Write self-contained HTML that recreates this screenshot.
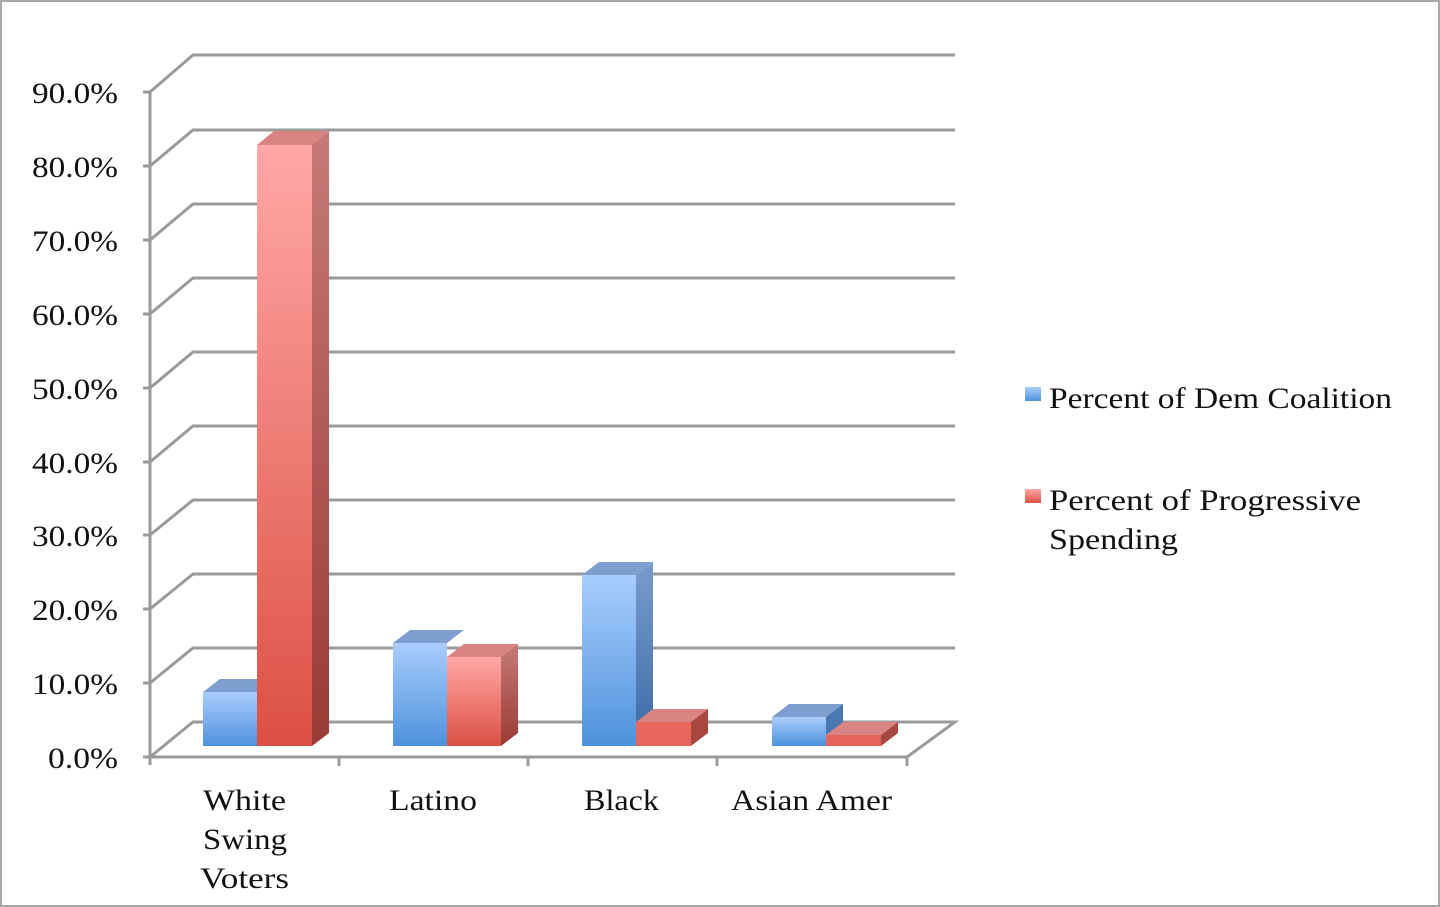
<!DOCTYPE html>
<html><head><style>
html,body{margin:0;padding:0;background:#fff}
svg{display:block}
text{font-family:"Liberation Serif",serif;fill:#111}
</style></head><body>
<svg width="1440" height="907" viewBox="0 0 1440 907">
<defs>
<linearGradient id="bf" x1="0" y1="0" x2="0" y2="1"><stop offset="0" stop-color="#a9cdfd"/><stop offset="1" stop-color="#4e92dc"/></linearGradient>
<linearGradient id="rf" x1="0" y1="0" x2="0" y2="1"><stop offset="0" stop-color="#ffa8a6"/><stop offset="1" stop-color="#dc5044"/></linearGradient>
<linearGradient id="bs" x1="0" y1="0" x2="0" y2="1"><stop offset="0" stop-color="#7b9ccc"/><stop offset="1" stop-color="#3a6aa6"/></linearGradient>
<linearGradient id="rs" x1="0" y1="0" x2="0" y2="1"><stop offset="0" stop-color="#c77a78"/><stop offset="1" stop-color="#9a3a33"/></linearGradient>
</defs>
<rect x="1" y="1" width="1438" height="905" fill="#fff" stroke="#a8a8a8" stroke-width="2"/>
<g stroke="#9a9a9a" stroke-width="3" fill="none">
<polyline points="150,757 193,722 955,722 907,757 150,757"/>
<polyline points="150,683 193,648 955,648"/>
<polyline points="150,609 193,574 955,574"/>
<polyline points="150,535 193,500 955,500"/>
<polyline points="150,462 193,426 955,426"/>
<polyline points="150,388 193,352 955,352"/>
<polyline points="150,314 193,278 955,278"/>
<polyline points="150,240 193,204 955,204"/>
<polyline points="150,166 193,130 955,130"/>
<polyline points="150,92 193,55 955,55"/>
<line x1="150" y1="92" x2="150" y2="765"/>
<line x1="143" y1="757" x2="150" y2="757"/><line x1="143" y1="683" x2="150" y2="683"/><line x1="143" y1="609" x2="150" y2="609"/><line x1="143" y1="535" x2="150" y2="535"/><line x1="143" y1="462" x2="150" y2="462"/><line x1="143" y1="388" x2="150" y2="388"/><line x1="143" y1="314" x2="150" y2="314"/><line x1="143" y1="240" x2="150" y2="240"/><line x1="143" y1="166" x2="150" y2="166"/><line x1="143" y1="92" x2="150" y2="92"/>
<line x1="339" y1="757" x2="339" y2="766"/><line x1="528" y1="757" x2="528" y2="766"/><line x1="717" y1="757" x2="717" y2="766"/><line x1="907" y1="757" x2="907" y2="766"/>
</g>
<g font-size="30" lengthAdjust="spacingAndGlyphs">
<text x="48" y="768" textLength="70" lengthAdjust="spacingAndGlyphs">0.0%</text>
<text x="32" y="694" textLength="86" lengthAdjust="spacingAndGlyphs">10.0%</text>
<text x="32" y="620" textLength="86" lengthAdjust="spacingAndGlyphs">20.0%</text>
<text x="32" y="546" textLength="86" lengthAdjust="spacingAndGlyphs">30.0%</text>
<text x="32" y="473" textLength="86" lengthAdjust="spacingAndGlyphs">40.0%</text>
<text x="32" y="399" textLength="86" lengthAdjust="spacingAndGlyphs">50.0%</text>
<text x="32" y="325" textLength="86" lengthAdjust="spacingAndGlyphs">60.0%</text>
<text x="32" y="251" textLength="86" lengthAdjust="spacingAndGlyphs">70.0%</text>
<text x="32" y="177" textLength="86" lengthAdjust="spacingAndGlyphs">80.0%</text>
<text x="32" y="103" textLength="86" lengthAdjust="spacingAndGlyphs">90.0%</text>
</g>
<g>
<polygon points="203,692 220,679 274,679 257,692" fill="#7e9ed0"/>
<rect x="203" y="692" width="54" height="54" fill="url(#bf)"/>
<polygon points="257,145 274,131 329,131 312,145" fill="#d98482"/>
<polygon points="312,145 329,131 329,733 312,746" fill="url(#rs)"/>
<rect x="257" y="145" width="55" height="601" fill="url(#rf)"/>
<polygon points="393,643 410,630 464,630 447,643" fill="#7e9ed0"/>
<rect x="393" y="643" width="54" height="103" fill="url(#bf)"/>
<polygon points="447,657 464,644 518,644 501,657" fill="#d98482"/>
<polygon points="501,657 518,644 518,733 501,746" fill="url(#rs)"/>
<rect x="447" y="657" width="54" height="89" fill="url(#rf)"/>
<polygon points="582,575 599,562 653,562 636,575" fill="#7e9ed0"/>
<polygon points="636,575 653,562 653,733 636,746" fill="url(#bs)"/>
<rect x="582" y="575" width="54" height="171" fill="url(#bf)"/>
<polygon points="636,722 653,709 708,709 691,722" fill="#d98482"/>
<polygon points="691,722 708,709 708,733 691,746" fill="#a84640"/>
<rect x="636" y="722" width="55" height="24" fill="#e8665c"/>
<polygon points="772,717 789,704 843,704 826,717" fill="#7e9ed0"/>
<polygon points="826,717 843,704 843,733 826,746" fill="#4a78b0"/>
<rect x="772" y="717" width="54" height="29" fill="url(#bf)"/>
<polygon points="826,735 843,722 898,722 881,735" fill="#d98482"/>
<polygon points="881,735 898,722 898,733 881,746" fill="#a84640"/>
<rect x="826" y="735" width="55" height="11" fill="#e6655b"/>
</g>
<g font-size="30">
<text x="203" y="810" textLength="83" lengthAdjust="spacingAndGlyphs">White</text>
<text x="203" y="849" textLength="84" lengthAdjust="spacingAndGlyphs">Swing</text>
<text x="200" y="888" textLength="89" lengthAdjust="spacingAndGlyphs">Voters</text>
<text x="389" y="810" textLength="88" lengthAdjust="spacingAndGlyphs">Latino</text>
<text x="584" y="810" textLength="75" lengthAdjust="spacingAndGlyphs">Black</text>
<text x="731" y="810" textLength="161" lengthAdjust="spacingAndGlyphs">Asian Amer</text>
</g>
<rect x="1025" y="387" width="16" height="14" fill="url(#bf)"/>
<rect x="1025" y="489" width="16" height="14" fill="url(#rf)"/>
<g font-size="30">
<text x="1049" y="408" textLength="343" lengthAdjust="spacingAndGlyphs">Percent of Dem Coalition</text>
<text x="1049" y="510" textLength="312" lengthAdjust="spacingAndGlyphs">Percent of Progressive</text>
<text x="1049" y="549" textLength="129" lengthAdjust="spacingAndGlyphs">Spending</text>
</g>
</svg>
</body></html>
